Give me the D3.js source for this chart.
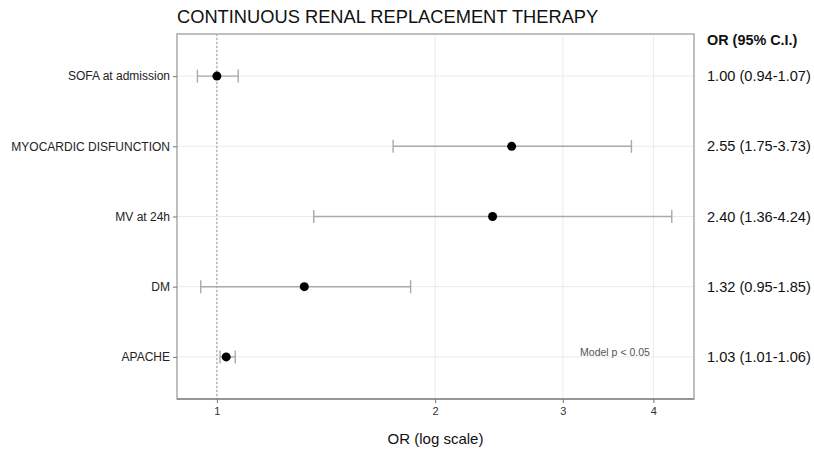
<!DOCTYPE html>
<html><head><meta charset="utf-8">
<script src="https://cdn.jsdelivr.net/npm/d3@7"></script>
<style>body{margin:0;background:#fff}svg{display:block}text{font-family:"Liberation Sans",Arial,sans-serif}</style>
</head><body><svg id="c" width="814" height="449"></svg>
<script>
const categories = ["SOFA at admission","MYOCARDIC DISFUNCTION","MV at 24h","DM","APACHE"];
const orValues = [1.00, 2.55, 2.40, 1.32, 1.03];
const ciLow = [0.94, 1.75, 1.36, 0.95, 1.01];
const ciHigh = [1.07, 3.73, 4.24, 1.85, 1.06];
const orLabels = ["1.00 (0.94-1.07)","2.55 (1.75-3.73)","2.40 (1.36-4.24)","1.32 (0.95-1.85)","1.03 (1.01-1.06)"];
const xTicks = [1,2,3,4];

const svg = d3.select("#c");
const L=177, R=694, T=34, B=399;
const x = d3.scaleLog().domain([0.881, 4.55]).range([L, R]);
const y = d3.scalePoint().domain(categories).range([T, B]).padding(0.6);

// gridlines
svg.append("g").selectAll("line").data(xTicks).join("line")
  .attr("x1", d=>x(d)).attr("x2", d=>x(d)).attr("y1", T).attr("y2", B)
  .attr("stroke", "#ebebeb").attr("stroke-width", 1);
svg.append("g").selectAll("line").data(categories).join("line")
  .attr("x1", L).attr("x2", R).attr("y1", d=>y(d)).attr("y2", d=>y(d))
  .attr("stroke", "#ebebeb").attr("stroke-width", 1);

// reference line
svg.append("line").attr("x1", x(1)).attr("x2", x(1)).attr("y1", T).attr("y2", B)
  .attr("stroke", "#999").attr("stroke-width", 1).attr("stroke-dasharray", "2,2");

// error bars
const rows = categories.map((c,i)=>({c, or:orValues[i], lo:ciLow[i], hi:ciHigh[i]}));
const eb = svg.append("g").attr("stroke", "#aaa").attr("stroke-width", 1.4);
eb.selectAll("line.h").data(rows).join("line").attr("class","h")
  .attr("x1", d=>x(d.lo)).attr("x2", d=>x(d.hi)).attr("y1", d=>y(d.c)).attr("y2", d=>y(d.c));
eb.selectAll("line.l").data(rows).join("line").attr("class","l")
  .attr("x1", d=>x(d.lo)).attr("x2", d=>x(d.lo)).attr("y1", d=>y(d.c)-6.5).attr("y2", d=>y(d.c)+6.5);
eb.selectAll("line.r").data(rows).join("line").attr("class","r")
  .attr("x1", d=>x(d.hi)).attr("x2", d=>x(d.hi)).attr("y1", d=>y(d.c)-6.5).attr("y2", d=>y(d.c)+6.5);

svg.append("g").selectAll("circle").data(rows).join("circle")
  .attr("cx", d=>x(d.or)).attr("cy", d=>y(d.c)).attr("r", 4.5).attr("fill", "#000");

// panel border
svg.append("rect").attr("x", L).attr("y", T).attr("width", R-L).attr("height", B-T)
  .attr("fill", "none").attr("stroke", "#aaa").attr("stroke-width", 1.5);
svg.append("line").attr("x1", L).attr("x2", R).attr("y1", B).attr("y2", B)
  .attr("stroke", "#888").attr("stroke-width", 1.5);

// axes
const xa = svg.append("g").attr("transform", `translate(0,${B})`)
  .call(d3.axisBottom(x).tickValues(xTicks).tickFormat(d3.format("d")).tickSize(4).tickPadding(4));
xa.select(".domain").remove();
xa.selectAll("line").attr("stroke", "#777");
xa.selectAll("text").attr("font-size", 11).attr("fill", "#333").attr("font-family", "Liberation Sans, Arial, sans-serif");

const ya = svg.append("g").attr("transform", `translate(${L},0)`)
  .call(d3.axisLeft(y).tickSize(4).tickPadding(3));
ya.select(".domain").remove();
ya.selectAll("line").attr("stroke", "#777");
ya.selectAll("text").attr("font-size", 12).attr("fill", "#222").attr("font-family", "Liberation Sans, Arial, sans-serif");

// title
svg.append("text").attr("x", L).attr("y", 23).attr("font-size", 18.3).attr("fill", "#111")
  .text("CONTINUOUS RENAL REPLACEMENT THERAPY");

// axis title
svg.append("text").attr("x", (L+R)/2).attr("y", 444).attr("text-anchor", "middle")
  .attr("font-size", 15).attr("fill", "#111").text("OR (log scale)");

// right labels
svg.append("text").attr("x", 707).attr("y", 45).attr("font-size", 14.4).attr("font-weight", "bold")
  .attr("fill", "#111").text("OR (95% C.I.)");
svg.append("g").selectAll("text").data(orLabels).join("text")
  .attr("x", 707).attr("y", (d,i)=>y(categories[i])).attr("dy", "0.35em")
  .attr("font-size", 14.6).attr("fill", "#111").text(d=>d);

// model note
svg.append("text").attr("x", 615).attr("y", 352).attr("dy","0.35em").attr("text-anchor", "middle")
  .attr("font-size", 10.5).attr("fill", "#555").text("Model p < 0.05");
</script></body></html>
